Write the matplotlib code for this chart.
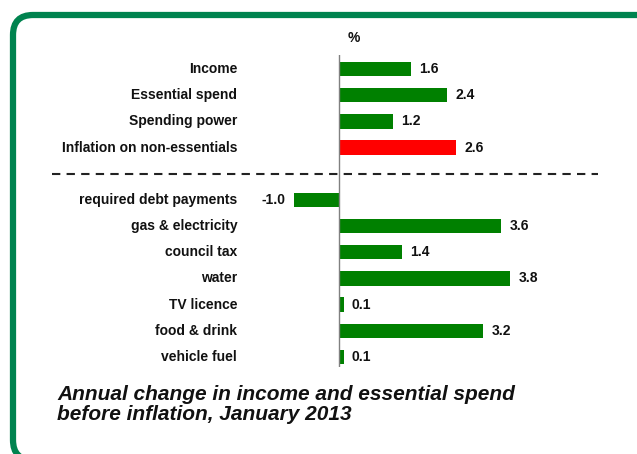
import matplotlib
matplotlib.use("Agg")
import matplotlib.pyplot as plt
from matplotlib.patches import FancyBboxPatch
from matplotlib.lines import Line2D
from matplotlib import font_manager

categories = ["Income", "Essential spend", "Spending power", "Inflation on non-essentials",
              "required debt payments", "gas & electricity", "council tax", "water",
              "TV licence", "food & drink", "vehicle fuel"]
values = [1.6, 2.4, 1.2, 2.6, -1.0, 3.6, 1.4, 3.8, 0.1, 3.2, 0.1]
colors = ["#008000", "#008000", "#008000", "#ff0000",
          "#008000", "#008000", "#008000", "#008000", "#008000", "#008000", "#008000"]
title_lines = ["Annual change in income and essential spend",
               "before inflation, January 2013"]

names = {f.name for f in font_manager.fontManager.ttflist}
narrow = "Liberation Sans Narrow" if "Liberation Sans Narrow" in names else "Liberation Sans"

W, H = 637, 454
fig = plt.figure(figsize=(W / 100, H / 100), dpi=100)

# border (in inches, so the rounding stays circular)
border = FancyBboxPatch((0.13, (H - 460) / 100), 6.48, (460 - 15) / 100,
                        boxstyle="round,pad=0,rounding_size=0.2",
                        transform=fig.dpi_scale_trans, fill=False,
                        edgecolor="#00834f", linewidth=4.5, clip_on=False)
fig.patches.append(border)

# axes: x_px = 339 + 45*v ; slot y_px = 69 + 26.18*i
x0v, x1v = -2.2, 5.8
left_px = 339 + 45 * x0v
right_px = 339 + 45 * x1v
ytop, ybot = -0.53, 11.4
top_px = 69 + 26.18 * ytop
bot_px = 69 + 26.18 * ybot
ax = fig.add_axes([left_px / W, 1 - bot_px / H, (right_px - left_px) / W, (bot_px - top_px) / H])
ax.set_xlim(x0v, x1v)
ax.set_ylim(ybot, ytop)
ax.axis("off")

pos = [i if i < 4 else i + 1 for i in range(len(categories))]
ax.barh(pos, values, height=0.55, color=colors, zorder=2)
ax.axvline(0, color="#808080", linewidth=1.0, zorder=3, ymin=0, ymax=1)

for p, v, c in zip(pos, values, categories):
    ax.annotate(c, xy=(0, p), xycoords=("axes fraction", "data"), xytext=(-2, 0),
                textcoords="offset points", ha="right", va="center",
                fontsize=10, fontweight="bold", family=narrow, color="#111111")
    if v >= 0:
        ax.annotate(f"{v:.1f}", xy=(v, p), xytext=(6, 0), textcoords="offset points",
                    ha="left", va="center", fontsize=10, fontweight="bold",
                    family=narrow, color="#111111")
    else:
        ax.annotate(f"{v:.1f}", xy=(v, p), xytext=(-6, 0), textcoords="offset points",
                    ha="right", va="center", fontsize=10, fontweight="bold",
                    family=narrow, color="#111111")

# dashed separator
fig.add_artist(Line2D([52 / W, 598 / W], [1 - 174 / H, 1 - 174 / H],
                      transform=fig.transFigure, color="#222222",
                      linewidth=1.5, linestyle=(0, (4, 3))))

fig.text(354 / W, 1 - 38 / H, "%", ha="center", va="center", fontsize=10,
         fontweight="bold", family=narrow, color="#111111")

for k, line in enumerate(title_lines):
    fig.text(57 / W, 1 - (394 + 21 * k) / H, line, ha="left", va="center",
             fontsize=15.0, fontweight="bold", fontstyle="italic",
             family="Liberation Sans", color="#111111")

fig.savefig("out.png", dpi=100, facecolor="white")
